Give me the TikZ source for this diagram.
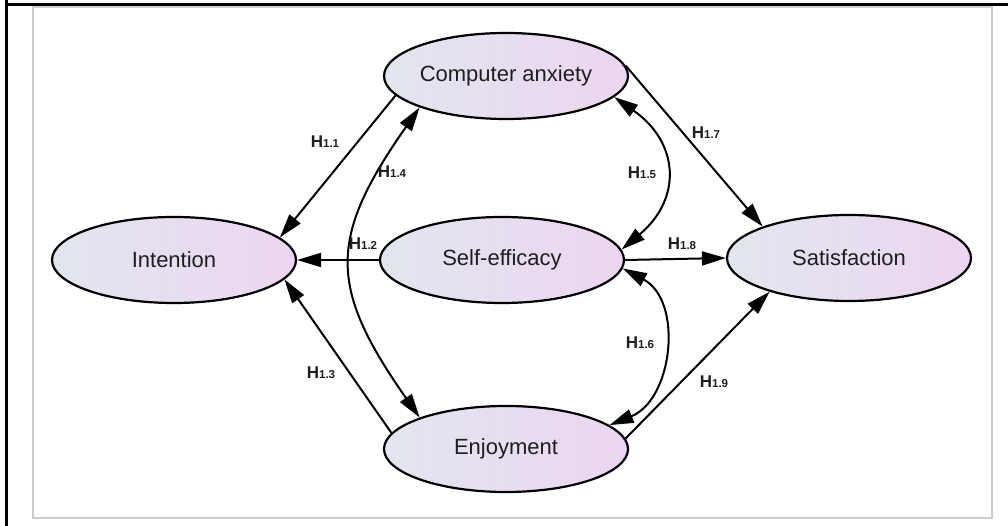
\documentclass[tikz,border=0pt]{standalone}
\usepackage{fontspec}
\setmainfont{Liberation Sans}
\usetikzlibrary{shapes.geometric,arrows.meta}
\definecolor{lblue}{RGB}{226,230,238}
\definecolor{lpink}{RGB}{236,213,242}
\definecolor{txt}{RGB}{30,30,30}
\newcommand{\hlab}[1]{H{\fontsize{11.5}{13}\selectfont #1}}
\tikzset{
  latent/.style={ellipse,draw=black,line width=2.2pt,left color=lblue,right color=lpink,
    minimum width=244pt,minimum height=86pt,inner sep=0pt,text=txt,
    font=\fontsize{22}{26}\selectfont},
  link/.style={line width=2pt,-{Triangle[length=24pt,width=14pt]}},
  both/.style={line width=2pt,{Triangle[length=24pt,width=14pt]}-{Triangle[length=24pt,width=14pt]}},
  hyp/.style={inner sep=0pt,text=txt,font=\fontsize{17}{20}\selectfont\bfseries}
}
\begin{document}
\begin{tikzpicture}[x=1pt,y=1pt]
\useasboundingbox (0,0) rectangle (1008,526);
\fill [white] (0,0) rectangle (1008,526);
\draw [gray!40,line width=1.5pt] (33,8) rectangle (992,519);
\draw [black,line width=3pt] (5,521) -- (1008,521);
\draw [black,line width=3pt] (6.5,0) -- (6.5,526);

\node[latent] (int) at (174,266) {Intention};
\node[latent] (ca) at (506,450) {Computer anxiety};
\node[latent] (se) at (502,266) {Self-efficacy};
\node[latent] (sat) at (849,268) {Satisfaction};
\node[latent] (enj) at (506,77) {Enjoyment};

\draw [link] (ca.190) -- (int.12);
\draw [link] (se.west) -- (int.east);
\draw [link] (enj.172) -- (int.350);
\draw [both] (ca.200) to[out=235,in=125,looseness=1.32] (enj.160);
\draw [both] (ca.349) to[out=-35,in=40,looseness=1.33] (se.5);
\draw [both] (se.356) to[out=-28,in=22,looseness=1.12] (enj.13);
\draw [link] (ca.5) -- (sat.160);
\draw [link] (se.east) -- (sat.west);
\draw [link] (enj.5) -- (sat.203);

\node[hyp] (h11) at (325,384) {\hlab{1.1}};
\node[hyp] (h12) at (363,282) {\hlab{1.2}};
\node[hyp] (h13) at (321,153) {\hlab{1.3}};
\node[hyp] (h14) at (392,354) {\hlab{1.4}};
\node[hyp] (h15) at (642,353) {\hlab{1.5}};
\node[hyp] (h16) at (640,183) {\hlab{1.6}};
\node[hyp] (h17) at (706,393) {\hlab{1.7}};
\node[hyp] (h18) at (682,282) {\hlab{1.8}};
\node[hyp] (h19) at (714,144) {\hlab{1.9}};
\end{tikzpicture}
\end{document}
